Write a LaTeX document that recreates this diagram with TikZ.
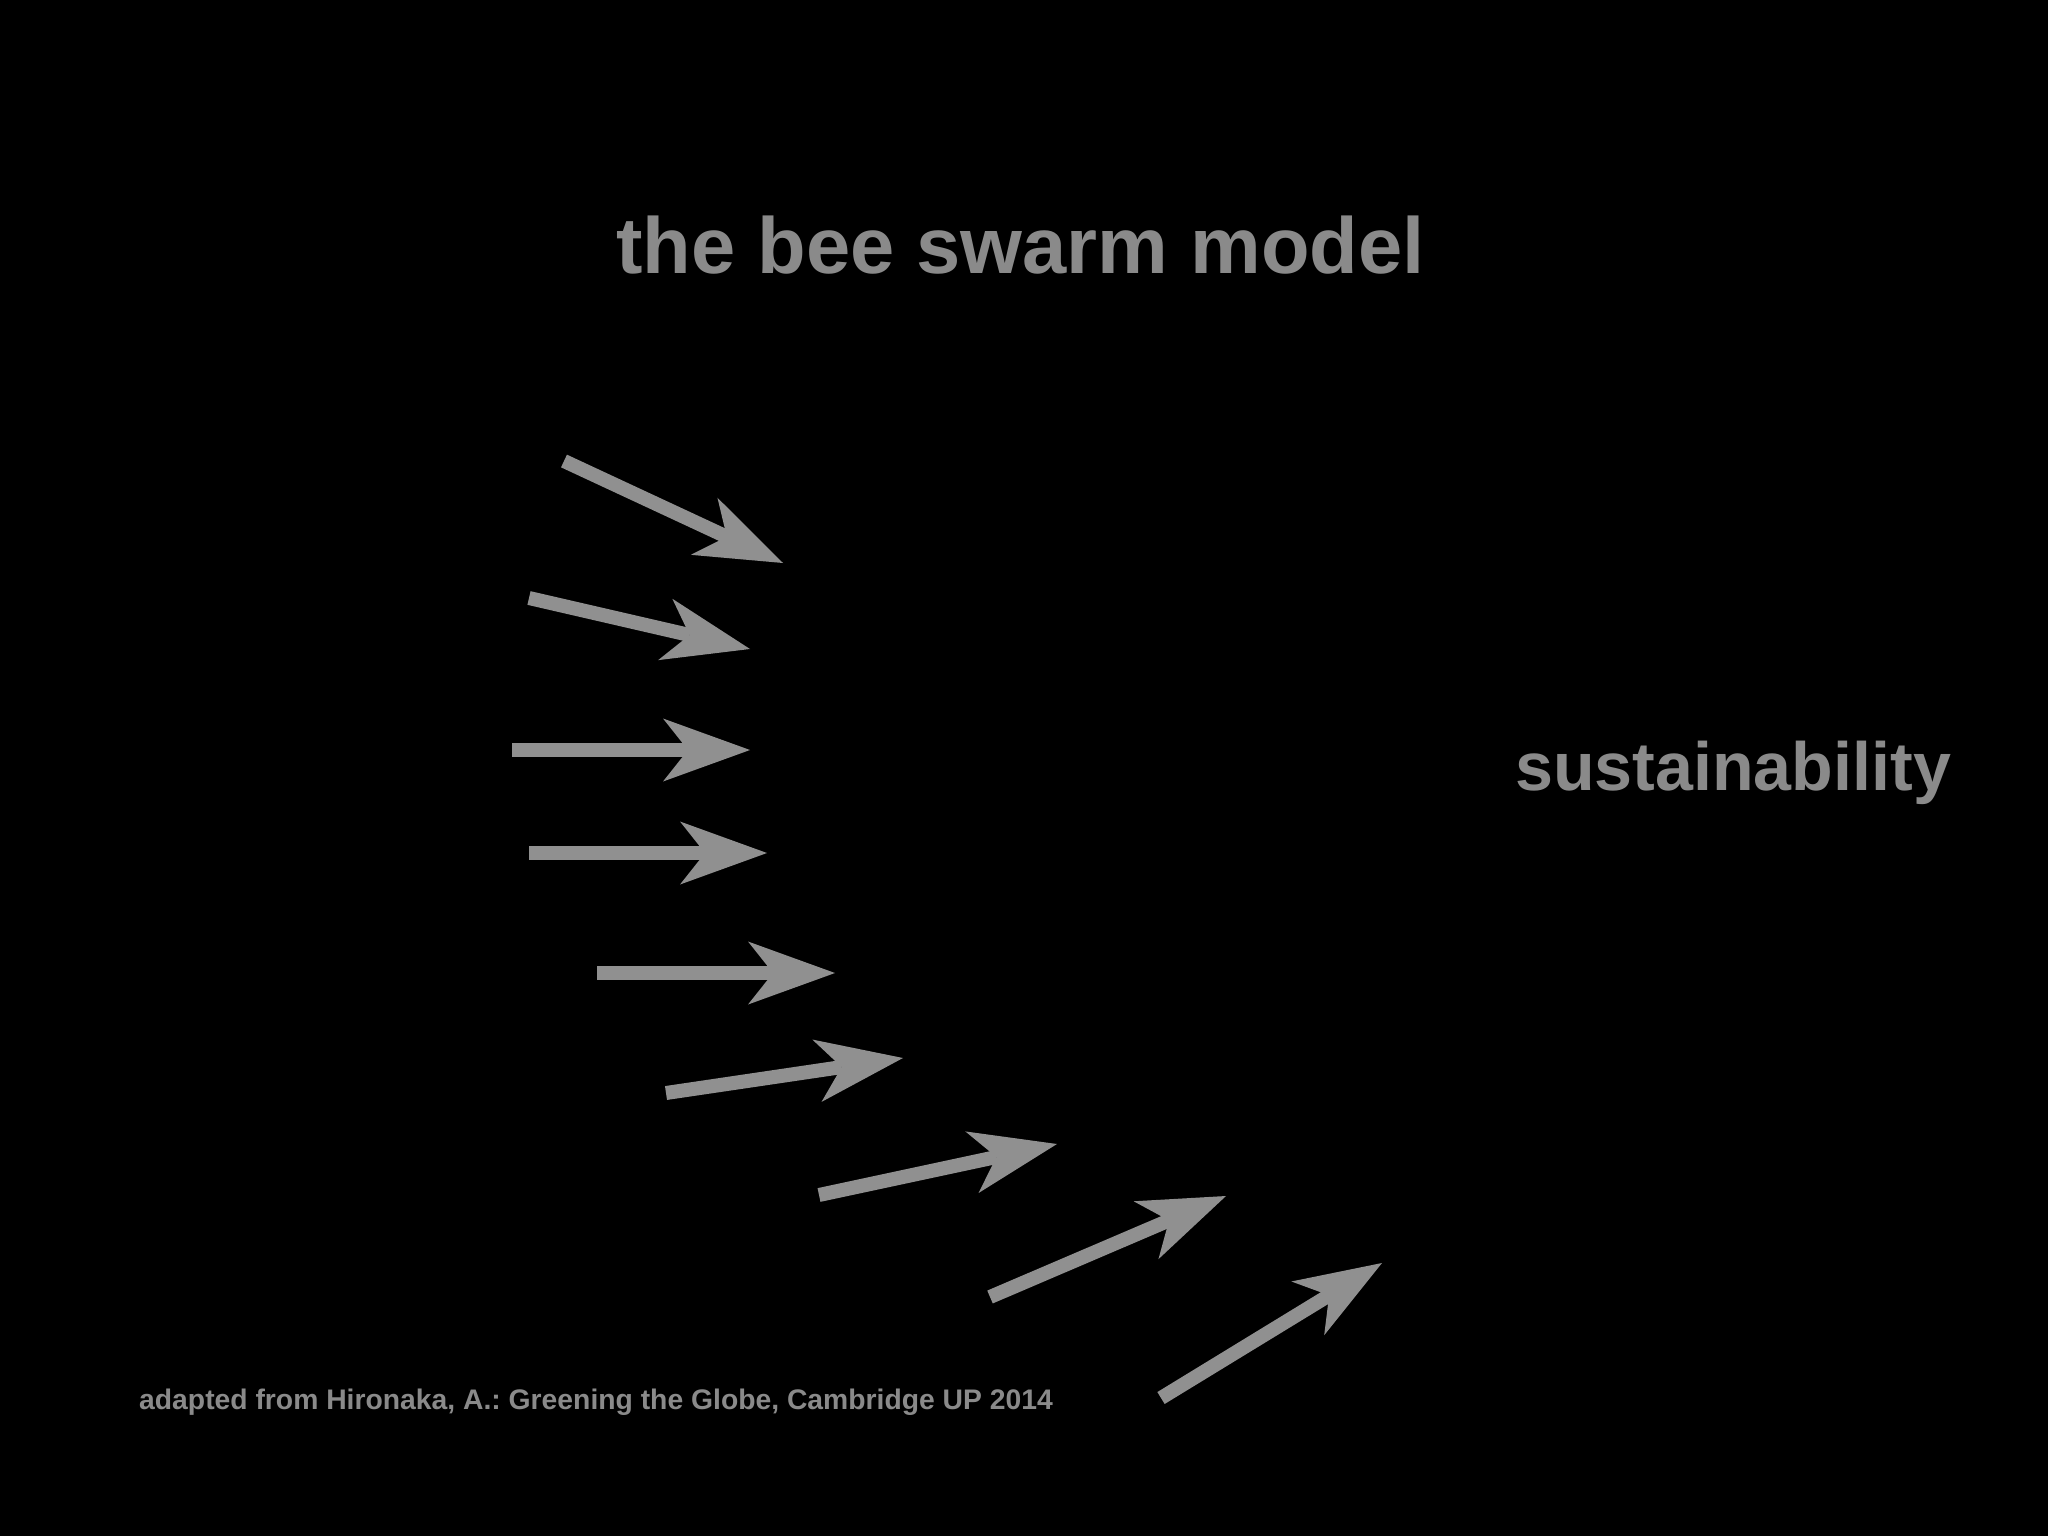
\documentclass[tikz,border=0pt]{standalone}
\usepackage{fontspec}
\setmainfont{Liberation Sans}
\usetikzlibrary{arrows.meta}
\definecolor{txtgray}{HTML}{8A8A8A}
\definecolor{arrgray}{HTML}{909090}
\tikzset{
  bee/.style={draw=arrgray, line width=14pt,
    -{Stealth[length=87pt,width=63pt,inset=25pt,line width=0pt,fill=arrgray]}},
  lbl/.style={text=txtgray, inner sep=0pt, anchor=base west, font=\bfseries}
}
\begin{document}
\frenchspacing
\begin{tikzpicture}[x=1pt,y=-1pt]
\fill[black] (0,0) rectangle (2048,1536);
\useasboundingbox (0,0) rectangle (2048,1536);

\node[lbl, font=\bfseries\fontsize{79.5}{90}\selectfont] (title) at (616,273) {the bee swarm model};
\node[lbl, font=\bfseries\fontsize{68.2}{80}\selectfont] (sust) at (1515,790) {sustainability};
\node[lbl, font=\bfseries\fontsize{28.3}{32}\selectfont] (src) at (139,1409) {adapted from Hironaka, A.: Greening the Globe, Cambridge UP 2014};

\coordinate (t1) at (564,461);  \coordinate (h1) at (783,563);
\coordinate (t2) at (529,598);  \coordinate (h2) at (750,649);
\coordinate (t3) at (512,750);  \coordinate (h3) at (750,750);
\coordinate (t4) at (529,853);  \coordinate (h4) at (767,853);
\coordinate (t5) at (597,973);  \coordinate (h5) at (835,973);
\coordinate (t6) at (666,1093); \coordinate (h6) at (903,1058);
\coordinate (t7) at (819,1195); \coordinate (h7) at (1057,1144);
\coordinate (t8) at (990,1297); \coordinate (h8) at (1226,1196);
\coordinate (t9) at (1161,1398);\coordinate (h9) at (1382,1263);

\foreach \i in {1,...,9} { \draw[bee] (t\i) -- (h\i); }
\end{tikzpicture}
\end{document}
